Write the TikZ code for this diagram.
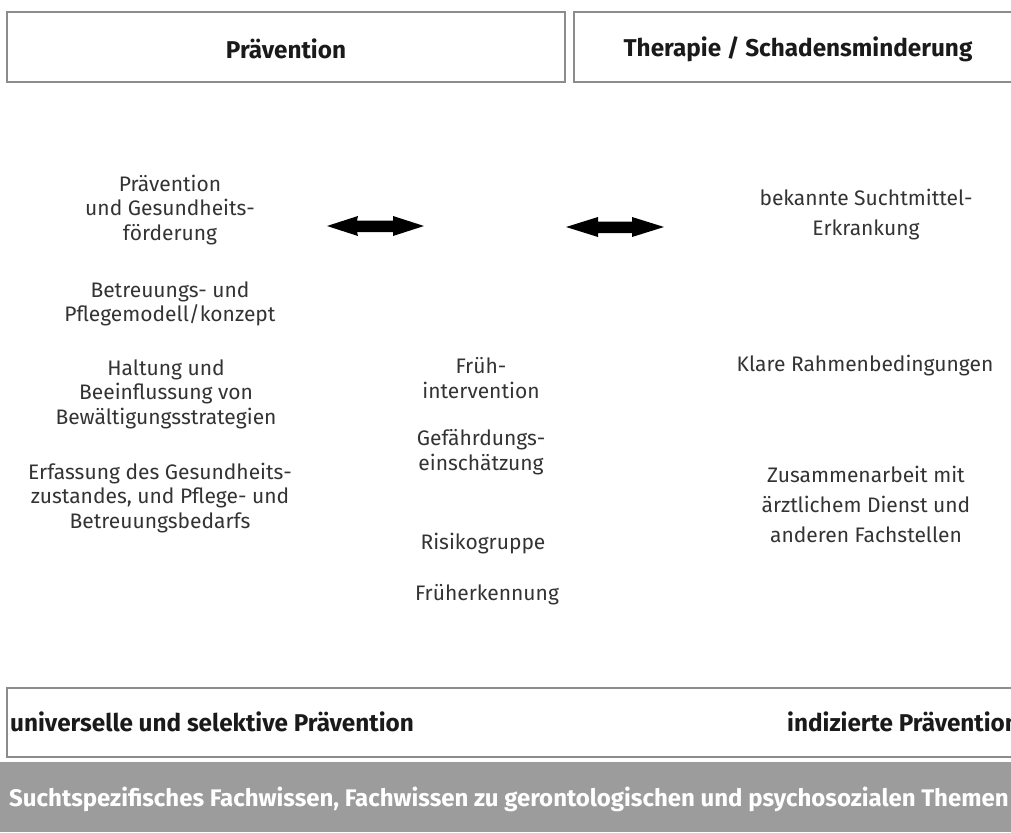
\documentclass[tikz,border=0pt]{standalone}
\usepackage{fontspec}
\setmainfont{Fira Sans}
\newfontfamily\headfont{Fira Sans}
\definecolor{boxline}{HTML}{8C8C8C}
\definecolor{bodytext}{HTML}{333333}
\definecolor{headtext}{HTML}{1A1A1A}
\definecolor{bargray}{HTML}{9C9C9C}
\tikzset{
  x=1pt, y=-1pt,
  frame/.style={draw=boxline, line width=1.3pt},
  head/.style={font=\headfont\bfseries\fontsize{24.3}{28}\selectfont, text=headtext, inner sep=0pt},
  body/.style={font=\fontsize{21}{24.5}\selectfont, text=bodytext, align=center, inner sep=0pt},
  bodyw/.style={body, font=\fontsize{21}{30}\selectfont},
  dblarrow/.style={fill=black},
}
\begin{document}
\begin{tikzpicture}
\useasboundingbox (0,0) rectangle (1011,832);
% top boxes
\draw[frame] (7,12) rectangle (565,82);
\draw[frame] (574,12) rectangle (1025,82);
\node[head] (prev) at (286,49) {Prävention};
\node[head] (ther) at (798,49) {Therapie / Schadensminderung};
% arrows
\fill[dblarrow] (327,226) -- (358,216) -- (357,220.5) -- (393,220.5) -- (393,216) -- (424,226) -- (393,236) -- (393,232) -- (357,232) -- (358,236) -- cycle;
\fill[dblarrow] (566,227) -- (598,217) -- (598,221.5) -- (632,221.5) -- (632,217) -- (664,227) -- (632,237) -- (632,233) -- (598,233) -- (598,237) -- cycle;
% left column
\node[body] (l1) at (170,210) {Prävention\\und Gesundheits-\\förderung};
\node[body] (l2) at (170,304) {Betreuungs- und\\Pflegemodell/konzept};
\node[body] (l3) at (166,394) {Haltung und\\Beeinflussung von\\Bewältigungsstrategien};
\node[body] (l4) at (160,498) {Erfassung des Gesundheits-\\zustandes, und Pflege- und\\Betreuungsbedarfs};
% middle column
\node[body] (m1) at (481,378) {Früh-\\intervention};
\node[body] (m2) at (481,452) {Gefährdungs-\\einschätzung};
\node[body] (m3) at (483,544) {Risikogruppe};
\node[body] (m4) at (487,595) {Früherkennung};
% right column
\node[bodyw] (r1) at (866,215) {bekannte Suchtmittel-\\Erkrankung};
\node[bodyw] (r2) at (865,366) {Klare Rahmenbedingungen};
\node[bodyw] (r3) at (866,504) {Zusammenarbeit mit\\ärztlichem Dienst und\\anderen Fachstellen};
% bottom box
\draw[frame] (7,688) rectangle (1025,757);
\node[head, anchor=west] (univ) at (10,722) {universelle und selektive Prävention};
\node[head, anchor=west] (ind) at (787,722) {indizierte Prävention};
% gray bar
\fill[bargray] (0,762) rectangle (1011,832);
\node[head, text=white, anchor=west, font=\headfont\bfseries\fontsize{24}{28}\selectfont] (fach) at (9,799) {Suchtspezifisches Fachwissen, Fachwissen zu gerontologischen und psychosozialen Themen};
\end{tikzpicture}
\end{document}
